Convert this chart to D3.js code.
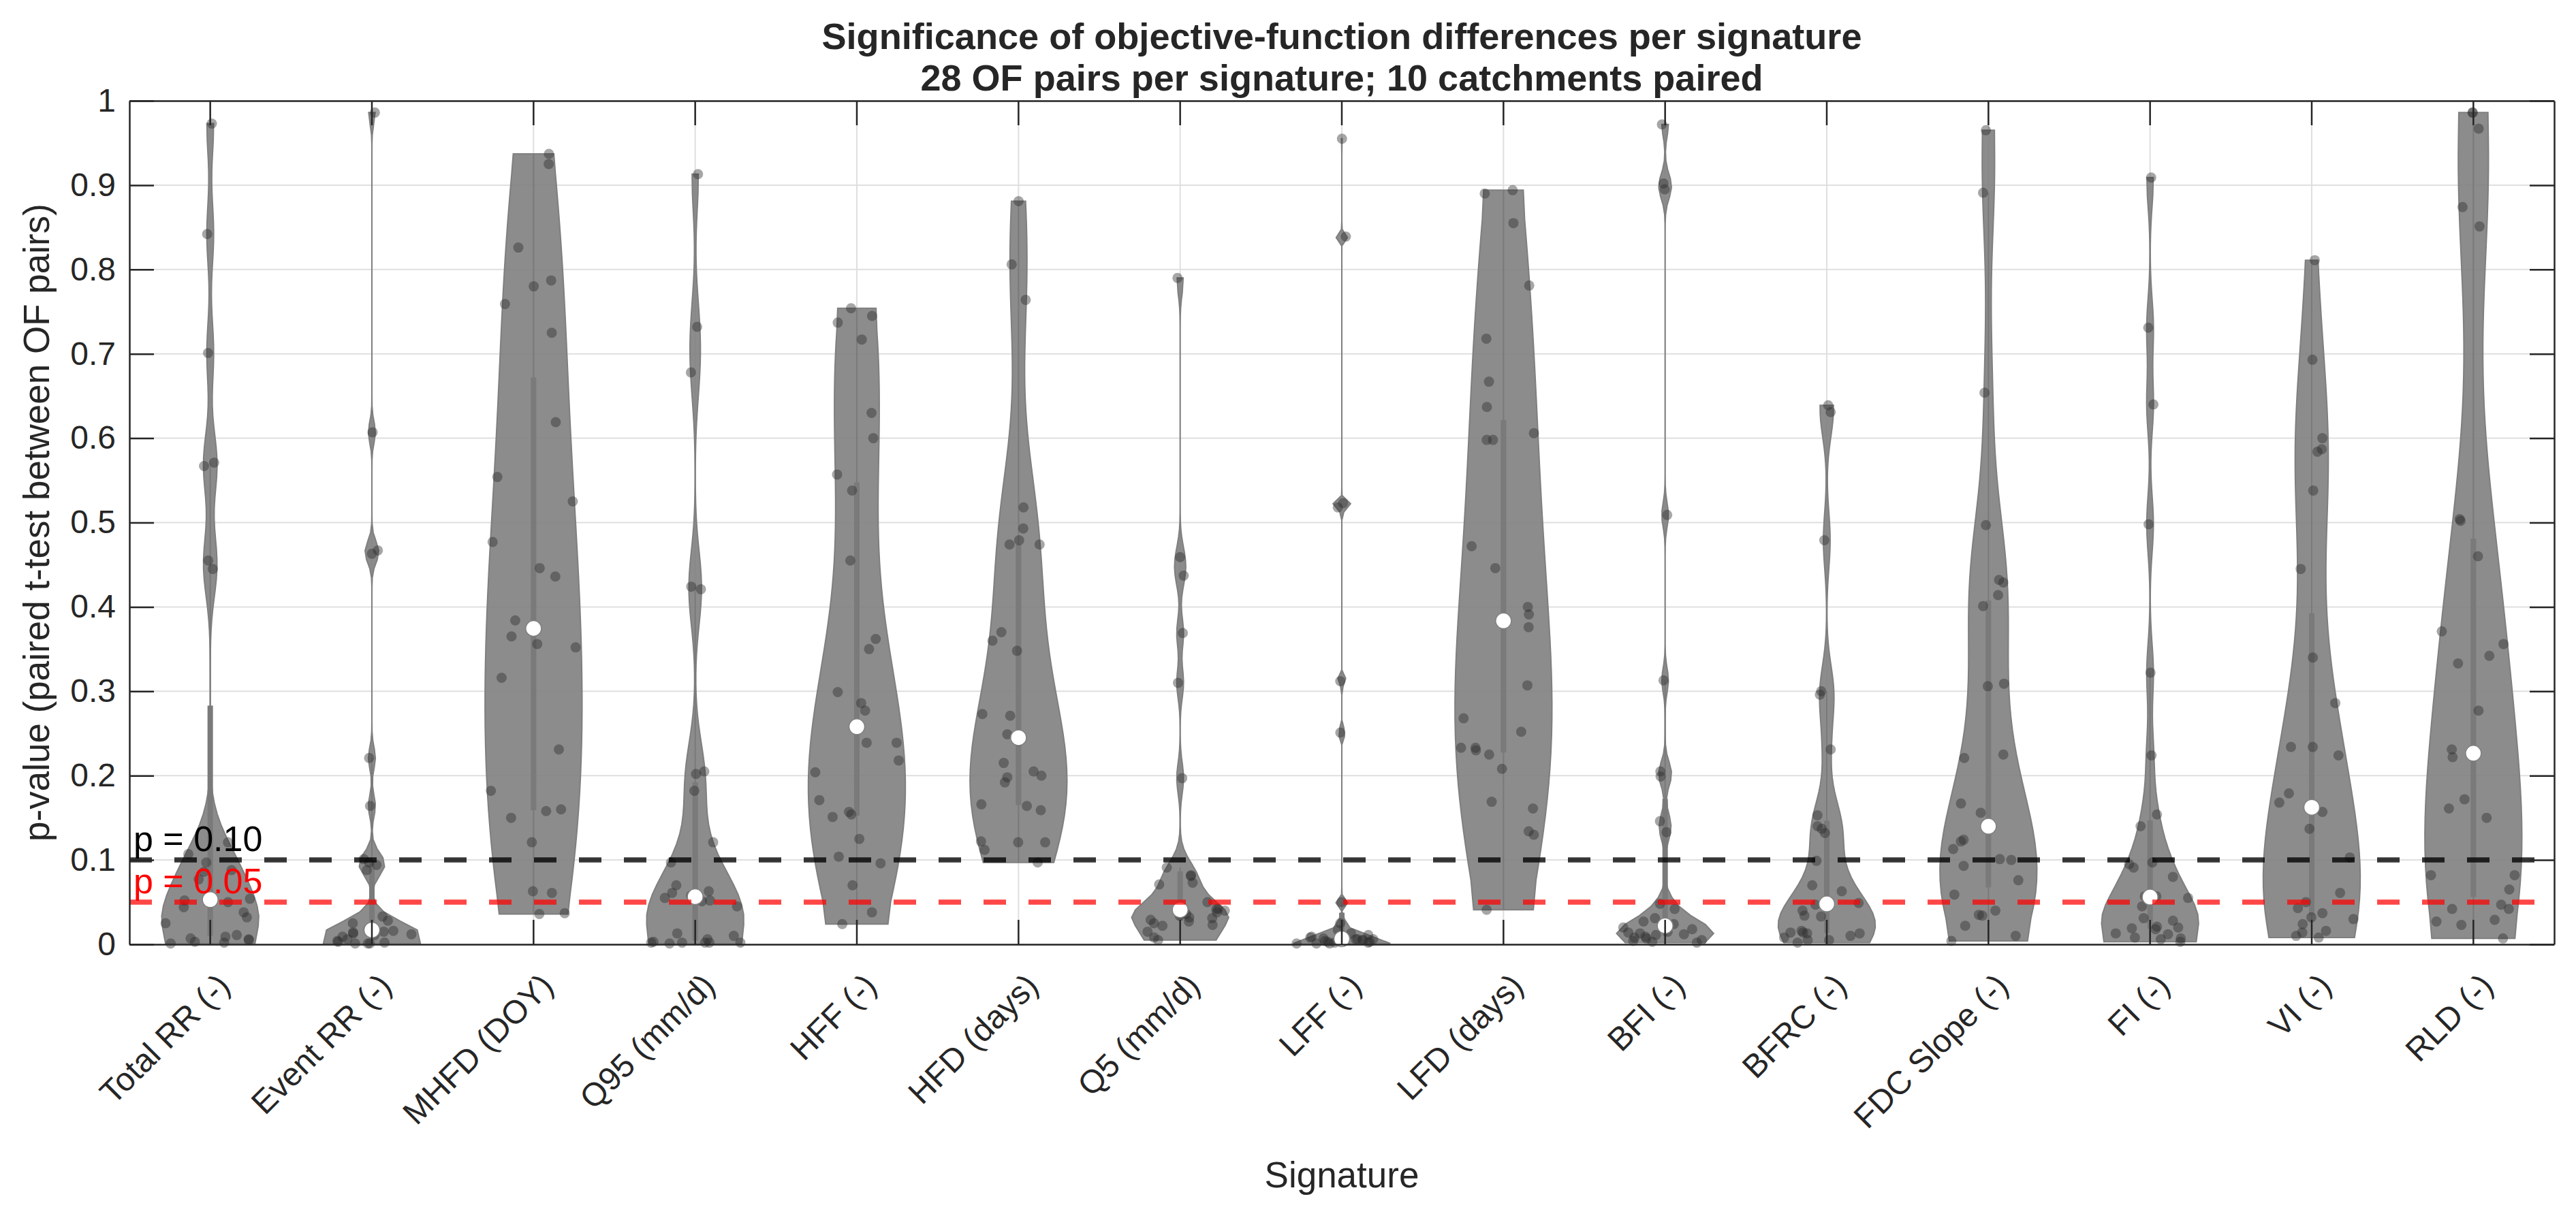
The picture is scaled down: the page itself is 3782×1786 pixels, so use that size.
<!DOCTYPE html>
<html>
<head>
<meta charset="utf-8">
<script src="https://cdn.jsdelivr.net/npm/d3@7"></script>
<style>
  body { margin: 0; background: #fff; }
  text { font-family: "Liberation Sans", Arial, Helvetica, sans-serif; }
</style>
</head>
<body>
<div id="chart"></div>
<script>
// signatures on the x axis
const signatures = ["Total RR (-)", "Event RR (-)", "MHFD (DOY)", "Q95 (mm/d)", "HFF (-)", "HFD (days)",
  "Q5 (mm/d)", "LFF (-)", "LFD (days)", "BFI (-)", "BFRC (-)", "FDC Slope (-)", "FI (-)", "VI (-)", "RLD (-)"];

// p-values, 28 OF pairs per signature
const totalRR = [0.973, 0.842, 0.701, 0.571, 0.567, 0.455, 0.445, 0.121, 0.107, 0.097, 0.088, 0.086, 0.077, 0.054,
  0.052, 0.050, 0.044, 0.038, 0.032, 0.025, 0.011, 0.009, 0.007, 0.006, 0.005, 0.003, 0.002, 0.001];
const eventRR = [0.986, 0.607, 0.467, 0.463, 0.221, 0.164, 0.101, 0.097, 0.094, 0.088, 0.033, 0.028, 0.025, 0.018,
  0.016, 0.015, 0.014, 0.013, 0.012, 0.011, 0.009, 0.006, 0.004, 0.003, 0.002, 0.001, 0.001, 0.001];
const mhfd = [0.937, 0.925, 0.826, 0.787, 0.780, 0.759, 0.725, 0.619, 0.554, 0.525, 0.477, 0.446, 0.436, 0.384,
  0.365, 0.356, 0.352, 0.316, 0.231, 0.182, 0.160, 0.158, 0.150, 0.121, 0.063, 0.061, 0.037, 0.036];
const q95 = [0.913, 0.732, 0.678, 0.424, 0.421, 0.205, 0.202, 0.182, 0.121, 0.097, 0.070, 0.063, 0.061, 0.058,
  0.055, 0.052, 0.051, 0.045, 0.013, 0.010, 0.006, 0.003, 0.002, 0.002, 0.002, 0.002, 0.002, 0.001];
const hff = [0.754, 0.745, 0.737, 0.717, 0.630, 0.600, 0.557, 0.538, 0.455, 0.362, 0.350, 0.299, 0.286, 0.277,
  0.239, 0.239, 0.218, 0.204, 0.171, 0.157, 0.154, 0.151, 0.125, 0.104, 0.096, 0.070, 0.038, 0.024];
const hfd = [0.881, 0.806, 0.764, 0.518, 0.493, 0.479, 0.474, 0.474, 0.370, 0.360, 0.348, 0.273, 0.271, 0.249,
  0.241, 0.215, 0.205, 0.200, 0.198, 0.192, 0.166, 0.164, 0.159, 0.122, 0.121, 0.121, 0.112, 0.097];
const q5 = [0.790, 0.459, 0.437, 0.369, 0.310, 0.197, 0.091, 0.082, 0.081, 0.073, 0.071, 0.050, 0.042, 0.042,
  0.040, 0.038, 0.036, 0.034, 0.032, 0.031, 0.029, 0.027, 0.025, 0.023, 0.022, 0.015, 0.008, 0.005];
const lff = [0.955, 0.839, 0.523, 0.518, 0.312, 0.251, 0.050, 0.025, 0.017, 0.013, 0.011, 0.009, 0.008, 0.007,
  0.006, 0.006, 0.006, 0.005, 0.005, 0.004, 0.004, 0.003, 0.003, 0.002, 0.002, 0.001, 0.001, 0.001];
const lfd = [0.894, 0.890, 0.855, 0.781, 0.718, 0.667, 0.637, 0.606, 0.598, 0.598, 0.472, 0.446, 0.400, 0.391,
  0.376, 0.307, 0.268, 0.252, 0.233, 0.233, 0.230, 0.225, 0.208, 0.169, 0.161, 0.134, 0.130, 0.041];
const bfi = [0.972, 0.902, 0.895, 0.509, 0.313, 0.205, 0.199, 0.146, 0.133, 0.048, 0.042, 0.031, 0.027, 0.024,
  0.020, 0.018, 0.015, 0.014, 0.013, 0.012, 0.011, 0.009, 0.008, 0.007, 0.005, 0.004, 0.003, 0.002];
const bfrc = [0.639, 0.631, 0.479, 0.300, 0.296, 0.231, 0.153, 0.140, 0.137, 0.132, 0.099, 0.070, 0.063, 0.049,
  0.047, 0.040, 0.034, 0.033, 0.016, 0.014, 0.014, 0.013, 0.013, 0.010, 0.008, 0.005, 0.005, 0.002];
const fdcSlope = [0.965, 0.891, 0.654, 0.497, 0.432, 0.429, 0.414, 0.401, 0.309, 0.306, 0.225, 0.221, 0.167, 0.156,
  0.124, 0.122, 0.113, 0.101, 0.100, 0.093, 0.076, 0.059, 0.040, 0.035, 0.034, 0.022, 0.010, 0.004];
const fi = [0.909, 0.731, 0.640, 0.498, 0.322, 0.224, 0.154, 0.140, 0.097, 0.095, 0.091, 0.080, 0.057, 0.057,
  0.055, 0.045, 0.031, 0.028, 0.021, 0.020, 0.019, 0.018, 0.013, 0.012, 0.008, 0.007, 0.006, 0.003];
const vi = [0.811, 0.693, 0.600, 0.587, 0.584, 0.538, 0.445, 0.340, 0.286, 0.234, 0.234, 0.224, 0.179, 0.168,
  0.157, 0.137, 0.103, 0.061, 0.050, 0.043, 0.037, 0.032, 0.030, 0.024, 0.016, 0.014, 0.010, 0.008];
const rld = [0.986, 0.986, 0.967, 0.874, 0.851, 0.504, 0.502, 0.460, 0.371, 0.356, 0.342, 0.333, 0.277, 0.231,
  0.222, 0.172, 0.161, 0.150, 0.082, 0.082, 0.065, 0.047, 0.042, 0.042, 0.029, 0.027, 0.023, 0.007];

const seriesValues = [totalRR, eventRR, mhfd, q95, hff, hfd, q5, lff, lfd, bfi, bfrc, fdcSlope, fi, vi, rld];

const yTicks = [0, 0.1, 0.2, 0.3, 0.4, 0.5, 0.6, 0.7, 0.8, 0.9, 1];
const yTickLabels = ["0", "0.1", "0.2", "0.3", "0.4", "0.5", "0.6", "0.7", "0.8", "0.9", "1"];
const refValues = [0.10, 0.05];
const refLabels = ["p = 0.10", "p = 0.05"];

const titleLines = ["Significance of objective-function differences per signature",
  "28 OF pairs per signature; 10 catchments paired"];

const W = 3782, H = 1786;
const pL = 190, pR = 3750, pT = 148, pB = 1387;
const tickLen = 36;
const violinWidth = 0.3; // half width, in category units

// MATLAB style quantile (p*n + 0.5, linear)
function mquantile(sorted, p) {
  const n = sorted.length;
  const pos = p * n + 0.5;
  if (pos <= 1) return sorted[0];
  if (pos >= n) return sorted[n - 1];
  const lo = Math.floor(pos);
  return sorted[lo - 1] + (pos - lo) * (sorted[lo] - sorted[lo - 1]);
}

// kernel density like ksdensity default, cut at data range
function violinProfile(values) {
  const n = values.length;
  const sorted = values.slice().sort(d3.ascending);
  const med = mquantile(sorted, 0.5);
  const dev = sorted.map(v => Math.abs(v - med)).sort(d3.ascending);
  let sig = mquantile(dev, 0.5) / 0.6745;
  if (sig <= 0) sig = sorted[n - 1] - sorted[0];
  const bw = sig * Math.pow(4 / (3 * n), 0.2);
  const lo = sorted[0] - 3 * bw, hi = sorted[n - 1] + 3 * bw;
  const kde = v0 => d3.sum(values, v => Math.exp(-0.5 * ((v0 - v) / bw) ** 2)) / (n * bw * Math.sqrt(2 * Math.PI));
  const pts = d3.range(100).map(i => lo + (hi - lo) * i / 99)
    .filter(g => g >= sorted[0] && g <= sorted[n - 1])
    .map(g => ({v: g, d: kde(g)}));
  pts[0].v = sorted[0];
  pts[pts.length - 1].v = sorted[n - 1];
  const maxD = d3.max(pts, p => p.d);
  pts.forEach(p => p.w = p.d / maxD * violinWidth);
  const outline = [{v: sorted[0] * (1 - 1e-5), w: 0}].concat(pts, [{v: sorted[n - 1] * (1 + 1e-5), w: 0}]);
  const q1 = mquantile(sorted, 0.25), q3 = mquantile(sorted, 0.75);
  const iqr = q3 - q1;
  const loW = d3.min(sorted.filter(v => v >= q1 - 1.5 * iqr));
  const hiW = d3.max(sorted.filter(v => v <= q3 + 1.5 * iqr));
  const widthAt = v => {
    const i = d3.bisector(p => p.v).left(outline, v);
    if (i <= 0) return outline[0].w;
    if (i >= outline.length) return outline[outline.length - 1].w;
    const a = outline[i - 1], b = outline[i];
    const t = b.v === a.v ? 0 : (v - a.v) / (b.v - a.v);
    return a.w + t * (b.w - a.w);
  };
  return {outline, med, q1, q3, loW, hiW, widthAt};
}

const svg = d3.select("#chart").append("svg")
  .attr("width", W).attr("height", H)
  .style("background", "#fff");

const x = d3.scaleBand().domain(signatures).range([pL, pR]).paddingInner(0).paddingOuter(0);
const step = x.bandwidth();
const xc = s => x(s) + step / 2;
const y = d3.scaleLinear().domain([0, 1]).range([pB, pT]);

// grid
const grid = svg.append("g");
grid.selectAll(".gy").data(yTicks).join("line")
  .attr("x1", pL).attr("x2", pR)
  .attr("y1", d => y(d)).attr("y2", d => y(d))
  .attr("stroke", "#dfdfdf").attr("stroke-width", 2);
grid.selectAll(".gx").data(signatures).join("line")
  .attr("x1", d => xc(d)).attr("x2", d => xc(d))
  .attr("y1", pT).attr("y2", pB)
  .attr("stroke", "#dfdfdf").attr("stroke-width", 2);

// violins
const rng = d3.randomLcg(0.4242);
signatures.forEach((s, i) => {
  const vals = seriesValues[i];
  const prof = violinProfile(vals);
  const cx = xc(s);
  const g = svg.append("g");

  const area = d3.area()
    .y(d => y(d.v))
    .x0(d => cx - d.w * step)
    .x1(d => cx + d.w * step);
  g.append("path")
    .datum(prof.outline)
    .attr("d", area)
    .attr("fill", "#7f7f7f")
    .attr("fill-opacity", 0.9)
    .attr("stroke", "#7f7f7f")
    .attr("stroke-width", 2);

  g.append("line")
    .attr("x1", cx).attr("x2", cx)
    .attr("y1", y(prof.loW)).attr("y2", y(prof.hiW))
    .attr("stroke", "#7a7a7a").attr("stroke-width", 2);
  g.append("rect")
    .attr("x", cx - 4).attr("width", 8)
    .attr("y", y(prof.q3)).attr("height", y(prof.q1) - y(prof.q3))
    .attr("fill", "#7a7a7a");

  g.selectAll("circle.pt").data(vals).join("circle")
    .attr("class", "pt")
    .attr("cx", d => cx + (2 * rng() - 1) * prof.widthAt(d) * step)
    .attr("cy", d => y(d))
    .attr("r", 7.5)
    .attr("fill", "#2a2a2a")
    .attr("fill-opacity", 0.42);

  g.append("circle")
    .attr("cx", cx).attr("cy", y(prof.med))
    .attr("r", 11.5)
    .attr("fill", "#fff")
    .attr("stroke", "#808080")
    .attr("stroke-width", 1.5);
});

// reference lines
const refColors = ["#000", "#ff0000"];
const refOpac = [0.78, 0.72];
refValues.forEach((r, i) => {
  svg.append("line")
    .attr("x1", pL).attr("x2", pR)
    .attr("y1", y(r)).attr("y2", y(r))
    .attr("stroke", refColors[i])
    .attr("stroke-opacity", refOpac[i])
    .attr("stroke-width", 7.5)
    .attr("stroke-dasharray", "33,33");
});

// axes box
const axColor = "#262626";
const axL = svg.append("g").attr("transform", `translate(${pL},0)`)
  .call(d3.axisLeft(y).tickValues(yTicks).tickFormat((d, i) => yTickLabels[i])
    .tickSizeInner(-tickLen).tickSizeOuter(0).tickPadding(20));
const axR = svg.append("g").attr("transform", `translate(${pR},0)`)
  .call(d3.axisRight(y).tickValues(yTicks).tickFormat("").tickSizeInner(-tickLen).tickSizeOuter(0));
const axB = svg.append("g").attr("transform", `translate(0,${pB})`)
  .call(d3.axisBottom(x).tickFormat("").tickSizeInner(-tickLen).tickSizeOuter(0));
const axT = svg.append("g").attr("transform", `translate(0,${pT})`)
  .call(d3.axisTop(x).tickFormat("").tickSizeInner(-tickLen).tickSizeOuter(0));
[axL, axR, axB, axT].forEach(a => {
  a.selectAll("path.domain").attr("stroke", axColor).attr("stroke-width", 2.5);
  a.selectAll(".tick line").attr("stroke", axColor).attr("stroke-width", 2.5);
});
axL.selectAll(".tick text")
  .attr("font-size", 48).attr("fill", axColor)
  .style("font-family", '"Liberation Sans", Arial, Helvetica, sans-serif');

// rotated category labels
svg.append("g").selectAll("text").data(signatures).join("text")
  .attr("transform", d => `translate(${xc(d) + 20},${pB + 52}) rotate(-45)`)
  .attr("text-anchor", "end")
  .attr("dominant-baseline", "central")
  .attr("font-size", 48)
  .attr("fill", axColor)
  .text(d => d);

// reference labels
refValues.forEach((r, i) => {
  svg.append("text")
    .attr("x", pL + 6)
    .attr("y", y(r) - 13)
    .attr("font-size", 52)
    .attr("fill", refColors[i])
    .text(refLabels[i]);
});

// axis labels
svg.append("text")
  .attr("x", (pL + pR) / 2).attr("y", 1744)
  .attr("text-anchor", "middle")
  .attr("font-size", 53).attr("fill", axColor)
  .text("Signature");
svg.append("text")
  .attr("transform", `translate(72,${(pT + pB) / 2}) rotate(-90)`)
  .attr("text-anchor", "middle")
  .attr("font-size", 53).attr("fill", axColor)
  .text("p-value (paired t-test between OF pairs)");

// title
const titleWidths = [1527, 1237];
const titleBase = [72, 133];
titleLines.forEach((t, i) => {
  svg.append("text")
    .attr("x", (pL + pR) / 2).attr("y", titleBase[i])
    .attr("text-anchor", "middle")
    .attr("font-size", 54).attr("font-weight", "bold")
    .attr("fill", axColor)
    .attr("textLength", titleWidths[i])
    .attr("lengthAdjust", "spacingAndGlyphs")
    .text(t);
});
</script>
</body>
</html>
